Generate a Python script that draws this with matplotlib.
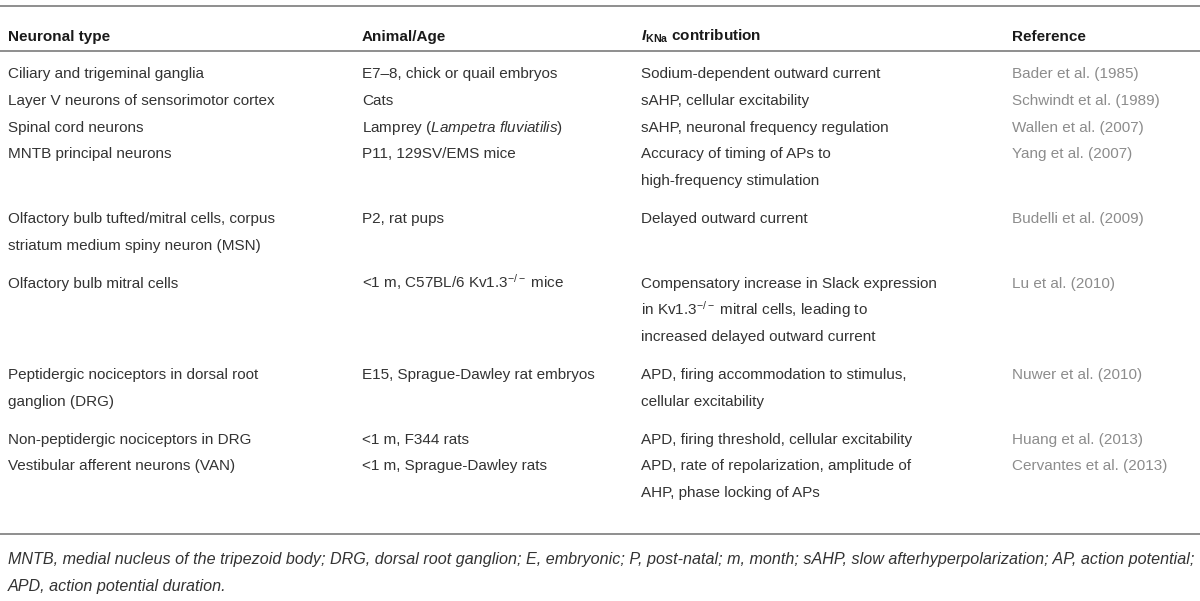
import matplotlib.pyplot as plt

# table content
headers = ["Neuronal type", "Animal/Age",
           r"$\mathbfit{I}_{\mathbf{KNa}}$ contribution", "Reference"]

neuron_type = [
    ["Ciliary and trigeminal ganglia"],
    ["Layer V neurons of sensorimotor cortex"],
    ["Spinal cord neurons"],
    ["MNTB principal neurons"],
    ["Olfactory bulb tufted/mitral cells, corpus",
     "striatum medium spiny neuron (MSN)"],
    ["Olfactory bulb mitral cells"],
    ["Peptidergic nociceptors in dorsal root", "ganglion (DRG)"],
    ["Non-peptidergic nociceptors in DRG"],
    ["Vestibular afferent neurons (VAN)"],
]
animal_age = [
    ["E7–8, chick or quail embryos"],
    ["Cats"],
    [r"Lamprey ($\mathit{Lampetra\ fluviatilis}$)"],
    ["P11, 129SV/EMS mice"],
    ["P2, rat pups"],
    [r"<1 m, C57BL/6 Kv1.3$^{-/-}$ mice"],
    ["E15, Sprague-Dawley rat embryos"],
    ["<1 m, F344 rats"],
    ["<1 m, Sprague-Dawley rats"],
]
contribution = [
    ["Sodium-dependent outward current"],
    ["sAHP, cellular excitability"],
    ["sAHP, neuronal frequency regulation"],
    ["Accuracy of timing of APs to", "high-frequency stimulation"],
    ["Delayed outward current"],
    ["Compensatory increase in Slack expression",
     r"in Kv1.3$^{-/-}$ mitral cells, leading to",
     "increased delayed outward current"],
    ["APD, firing accommodation to stimulus,", "cellular excitability"],
    ["APD, firing threshold, cellular excitability"],
    ["APD, rate of repolarization, amplitude of", "AHP, phase locking of APs"],
]
reference = [
    ["Bader et al. (1985)"],
    ["Schwindt et al. (1989)"],
    ["Wallen et al. (2007)"],
    ["Yang et al. (2007)"],
    ["Budelli et al. (2009)"],
    ["Lu et al. (2010)"],
    ["Nuwer et al. (2010)"],
    ["Huang et al. (2013)"],
    ["Cervantes et al. (2013)"],
]
footnote = [
    "MNTB, medial nucleus of the tripezoid body; DRG, dorsal root ganglion; E, embryonic; P, post-natal; "
    "m, month; sAHP, slow afterhyperpolarization; AP, action potential;",
    "APD, action potential duration.",
]

plt.rcParams['font.family'] = 'Liberation Sans'
plt.rcParams['mathtext.fontset'] = 'custom'
plt.rcParams['mathtext.rm'] = 'Liberation Sans'
plt.rcParams['mathtext.it'] = 'Liberation Sans:italic'
plt.rcParams['mathtext.bf'] = 'Liberation Sans:bold'
plt.rcParams['mathtext.bfit'] = 'Liberation Sans:bold:italic'

fig = plt.figure(figsize=(12, 6.01), dpi=100)
ax = fig.add_axes([0, 0, 1, 1])
ax.set_xlim(0, 1200)
ax.set_ylim(601, 0)
ax.axis('off')

col_x = [8, 362, 641, 1012]
pitch = 26.8
gap = 11
fs = 11
body = '#333333'
grey = '#8c8c8c'
rule = '#707070'

# rules and header
ax.axhline(6, color=rule, lw=1.1)
for x, h in zip(col_x, headers):
    ax.text(x, 36 + 5, h, fontsize=fs, fontweight='bold', color='#1a1a1a', va='baseline')
ax.axhline(51, color=rule, lw=1.1)

# body rows
y = 73
for cells in zip(neuron_type, animal_age, contribution, reference):
    n = max(len(c) for c in cells)
    for k, (x, lines) in enumerate(zip(col_x, cells)):
        col = grey if k == 3 else body
        for i, line in enumerate(lines):
            ax.text(x, y + i * pitch + 5, line, fontsize=fs, color=col, va='baseline')
    last = y + (n - 1) * pitch
    y += n * pitch + (gap if n > 1 else 0)

ax.axhline(last + 42, color=rule, lw=1.1)

# footnote, fitted to the table width
fy = last + 67
renderer = fig.canvas.get_renderer()
t = ax.text(8, fy + 5, footnote[0], fontsize=fs, style='italic', color='#333333', va='baseline')
w = t.get_window_extent(renderer).width
ffs = fs * 1184 / w
t.set_fontsize(ffs)
ax.text(8, fy + 27 + 5, footnote[1], fontsize=ffs, style='italic', color='#333333', va='baseline')

fig.savefig('out.png', dpi=100)
